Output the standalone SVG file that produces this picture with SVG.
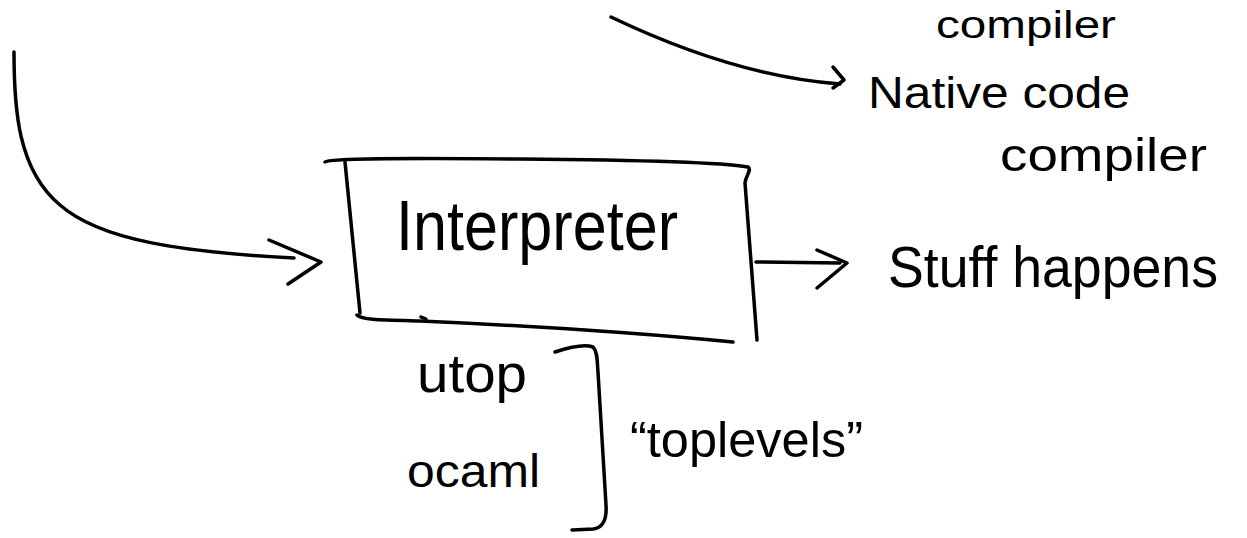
<svg xmlns="http://www.w3.org/2000/svg" width="1247" height="538" viewBox="0 0 1247 538">
  <style>
    .ink { fill: none; stroke: #000; stroke-width: 3.5; stroke-linecap: round; stroke-linejoin: round; }
    .hand { font-family: "Liberation Sans", "DejaVu Sans", sans-serif; fill: #000; }
  </style>
  <rect width="1247" height="538" fill="#fff"/>

  <!-- connectors -->
  <g id="connectors">
    <!-- incoming curve from the left into the interpreter -->
    <path class="ink" d="M14 52 C14 110 18 170 60 205 C100 240 180 252 294 258"/>
    <path class="ink" d="M269 240 L321 262 L288 284"/>
    <!-- curve into the native code compiler -->
    <path class="ink" d="M611 17 C680 50 760 78 840 84"/>
    <path class="ink" d="M833 67 L844 80 L833 88"/>
    <!-- interpreter output -->
    <path class="ink" d="M756 262 L840 263"/>
    <path class="ink" d="M817 250 L847 263 L817 288"/>
  </g>

  <!-- interpreter box -->
  <g id="interpreter">
    <path class="ink" d="M325 162 C330 158 400 158 520 159 C640 160 720 162 748 167 C752 170 746 175 745 183 L757 340"/>
    <path class="ink" d="M345 162 L360 313"/>
    <path class="ink" d="M357 315 C362 320 380 320 420 321 C560 327 660 335 733 342"/>
    <path class="ink" d="M421 317 L426 319"/>
    <text class="hand" x="396" y="250" font-size="70" textLength="282" lengthAdjust="spacingAndGlyphs">Interpreter</text>
  </g>

  <g id="stuff-happens">
    <text class="hand" x="888" y="287" font-size="58" textLength="330" lengthAdjust="spacingAndGlyphs">Stuff happens</text>
  </g>

  <g id="compiler-top">
    <text class="hand" x="936" y="38" font-size="38" textLength="180" lengthAdjust="spacingAndGlyphs">compiler</text>
  </g>

  <g id="native-code-compiler">
    <text class="hand" x="868" y="108" font-size="44" textLength="262" lengthAdjust="spacingAndGlyphs">Native code</text>
    <text class="hand" x="1000" y="171" font-size="46" textLength="207" lengthAdjust="spacingAndGlyphs">compiler</text>
  </g>

  <g id="toplevels">
    <text class="hand" x="417" y="392" font-size="54" textLength="110" lengthAdjust="spacingAndGlyphs">utop</text>
    <text class="hand" x="407" y="487" font-size="46" textLength="133" lengthAdjust="spacingAndGlyphs">ocaml</text>
    <path class="ink" d="M555 352 C570 347 585 344 593 347 C598 352 597 362 598 372 L606 505 C607 520 603 528 593 529 L572 530"/>
    <text class="hand" x="630" y="457" font-size="50" textLength="233" lengthAdjust="spacingAndGlyphs">“toplevels”</text>
  </g>
</svg>
